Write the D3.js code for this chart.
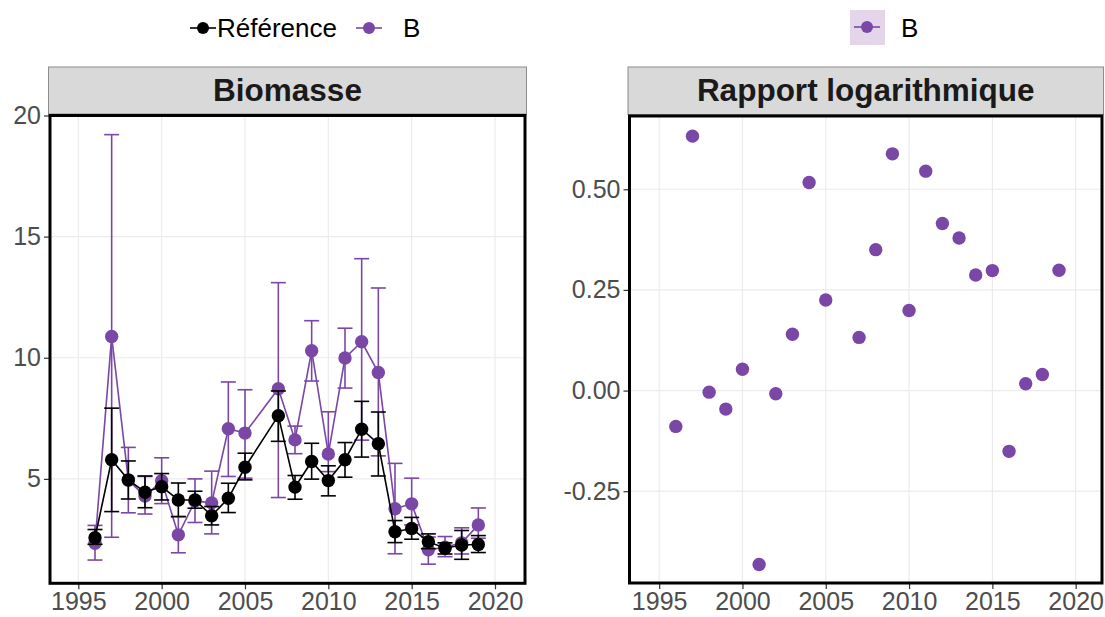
<!DOCTYPE html>
<html>
<head>
<meta charset="utf-8">
<script src="https://cdn.jsdelivr.net/npm/d3@7"></script>
<style>
  html, body { margin: 0; padding: 0; background: #fff; }
  svg { display: block; font-family: "Liberation Sans", Arial, Helvetica, sans-serif; }
</style>
</head>
<body>
<svg id="chart" width="1105" height="617"></svg>
<script>
// ---------- data ----------
const years = [1996,1997,1998,1999,2000,2001,2002,2003,2004,2005,2007,2008,2009,2010,2011,2012,2013,2014,2015,2016,2017,2018,2019];

const refVal = [2.57,5.79,4.96,4.45,4.68,4.13,4.13,3.48,4.20,5.48,7.61,4.66,5.72,4.93,5.79,7.05,6.45,2.82,2.95,2.41,2.14,2.27,2.29];
const refLo  = [2.30,3.65,4.17,3.81,4.13,3.44,3.79,3.10,3.61,4.96,6.55,4.16,4.99,4.30,5.07,5.90,5.12,2.37,2.51,2.12,1.90,1.68,1.96];
const refHi  = [2.91,7.92,5.74,5.12,5.22,4.83,4.49,3.86,4.82,6.06,8.63,5.14,6.47,5.54,6.50,8.20,7.76,3.28,3.41,2.73,2.36,2.87,2.66];

const bVal = [2.34,10.88,4.94,4.29,4.92,2.69,4.09,4.01,7.07,6.89,8.72,6.61,10.29,6.03,9.99,10.66,9.39,3.77,3.97,2.07,2.18,2.36,3.10];
const bLo  = [1.65,2.59,3.60,3.55,3.98,1.95,3.20,2.73,5.10,5.03,4.23,6.04,9.04,5.30,8.75,6.60,5.95,1.91,3.10,1.48,1.79,1.90,2.55];
const bHi  = [3.08,19.21,6.30,5.10,5.87,3.45,5.00,5.32,9.00,8.68,13.10,7.18,11.53,7.77,11.22,14.09,12.88,5.64,5.03,2.60,2.62,2.98,3.80];

const logRatio = [-0.089,0.632,-0.004,-0.046,0.053,-0.432,-0.008,0.140,0.517,0.225,0.132,0.350,0.588,0.199,0.545,0.415,0.379,0.287,0.298,-0.151,0.017,0.040,0.299];

const xTicks = [1995,2000,2005,2010,2015,2020];
const yTicksLeft = [5,10,15,20];
const yTicksRight = [-0.25,0,0.25,0.5];
const seriesNames = ["Référence","B"];
const panelTitles = ["Biomasse","Rapport logarithmique"];

// ---------- style ----------
const PURPLE = "#7a47a6";
const BLACK = "#000000";
const GRID = "#ebebeb";
const TICKTXT = "#4d4d4d";

const svg = d3.select("#chart");

const refRows = years.map((y,i)=>({year:y, v:refVal[i], lo:refLo[i], hi:refHi[i]}));
const bRows = years.map((y,i)=>({year:y, v:bVal[i], lo:bLo[i], hi:bHi[i]}));
const lrRows = years.map((y,i)=>({year:y, v:logRatio[i]}));

function panel(cfg) {
  const {x, y, xt, yt, yfmt, title} = cfg;
  const [px0, px1] = x.range();
  const [py1, py0] = y.range();
  const g = svg.append("g");
  g.selectAll(".gx").data(xt).join("line")
    .attr("x1", d=>x(d)).attr("x2", d=>x(d)).attr("y1", py0).attr("y2", py1)
    .attr("stroke", GRID).attr("stroke-width", 1.2);
  g.selectAll(".gy").data(yt).join("line")
    .attr("y1", d=>y(d)).attr("y2", d=>y(d)).attr("x1", px0).attr("x2", px1)
    .attr("stroke", GRID).attr("stroke-width", 1.2);
  g.append("rect").attr("x", px0-1.5).attr("y", 67).attr("width", px1-px0+3).attr("height", py0-67-1.5)
    .attr("fill", "#d9d9d9").attr("stroke", "#8c8c8c").attr("stroke-width", 1);
  g.append("text").attr("x", (px0+px1)/2).attr("y", 90).attr("text-anchor","middle")
    .attr("dominant-baseline","central").attr("font-weight","bold").attr("font-size", 31.5)
    .attr("fill", "#1a1a1a").text(title);
  const ax = g.append("g").attr("transform", `translate(0,${py1})`)
    .call(d3.axisBottom(x).tickValues(xt).tickSize(6).tickPadding(3).tickFormat(d3.format("d")));
  const ay = g.append("g").attr("transform", `translate(${px0},0)`)
    .call(d3.axisLeft(y).tickValues(yt).tickSize(6).tickPadding(3).tickFormat(yfmt));
  [ax, ay].forEach(a => {
    a.select(".domain").remove();
    a.selectAll(".tick line").attr("stroke", "#333").attr("stroke-width", 1.2);
    a.selectAll(".tick text").attr("fill", TICKTXT).attr("font-size", 25)
      .attr("font-family", '"Liberation Sans", Arial, sans-serif');
  });
  const plot = g.append("g");
  cfg.after = () => {
    g.append("rect").attr("x", px0).attr("y", py0).attr("width", px1-px0).attr("height", py1-py0)
      .attr("fill", "none").attr("stroke", "#000").attr("stroke-width", 3);
  };
  return plot;
}

// ---------- left panel ----------
const xL = d3.scaleLinear().domain([1993.3, 2021.8]).range([50, 525]);
const yL = d3.scaleLinear().domain([0.69, 20.0]).range([583.3, 115.5]);
const cfgL = {x:xL, y:yL, xt:xTicks, yt:yTicksLeft, yfmt:d3.format("d"), title:panelTitles[0]};
const pL = panel(cfgL);

function drawSeries(g, rows, color) {
  const cap = 7.5;
  const eb = g.append("g").attr("stroke", color).attr("stroke-width", 1.6).attr("fill","none");
  eb.selectAll(".v").data(rows).join("line")
    .attr("x1", d=>xL(d.year)).attr("x2", d=>xL(d.year)).attr("y1", d=>yL(d.lo)).attr("y2", d=>yL(d.hi));
  eb.selectAll(".t").data(rows).join("line")
    .attr("x1", d=>xL(d.year)-cap).attr("x2", d=>xL(d.year)+cap).attr("y1", d=>yL(d.hi)).attr("y2", d=>yL(d.hi));
  eb.selectAll(".b").data(rows).join("line")
    .attr("x1", d=>xL(d.year)-cap).attr("x2", d=>xL(d.year)+cap).attr("y1", d=>yL(d.lo)).attr("y2", d=>yL(d.lo));
  g.append("path").datum(rows)
    .attr("d", d3.line().x(d=>xL(d.year)).y(d=>yL(d.v)))
    .attr("fill","none").attr("stroke", color).attr("stroke-width", 1.6);
  g.append("g").selectAll("circle").data(rows).join("circle")
    .attr("cx", d=>xL(d.year)).attr("cy", d=>yL(d.v)).attr("r", 6.7).attr("fill", color);
}
drawSeries(pL.append("g"), bRows, PURPLE);
drawSeries(pL.append("g"), refRows, BLACK);
cfgL.after();

// ---------- right panel ----------
const xR = d3.scaleLinear().domain([1993.22, 2021.58]).range([629.5, 1102]);
const yR = d3.scaleLinear().domain([-0.478, 0.682]).range([583, 116]);
const cfgR = {x:xR, y:yR, xt:xTicks, yt:yTicksRight, yfmt:d=>d.toFixed(2), title:panelTitles[1]};
const pR = panel(cfgR);
pR.selectAll("circle").data(lrRows).join("circle")
  .attr("cx", d=>xR(d.year)).attr("cy", d=>yR(d.v)).attr("r", 6.7).attr("fill", PURPLE);
cfgR.after();

// ---------- legends ----------
function key(g, cx, cy, color) {
  g.append("line").attr("x1", cx-13).attr("x2", cx+13).attr("y1", cy).attr("y2", cy)
    .attr("stroke", color).attr("stroke-width", 1.6);
  g.append("circle").attr("cx", cx).attr("cy", cy).attr("r", 6).attr("fill", color);
}
const lg = svg.append("g");
key(lg, 203, 28, BLACK);
lg.append("text").attr("x", 217).attr("y", 28).attr("dominant-baseline","central")
  .attr("font-size", 26).attr("fill","#000").text(seriesNames[0]);
key(lg, 369, 28, PURPLE);
lg.append("text").attr("x", 403).attr("y", 28).attr("dominant-baseline","central")
  .attr("font-size", 26).attr("fill","#000").text(seriesNames[1]);

const lg2 = svg.append("g");
lg2.append("rect").attr("x", 850).attr("y", 10).attr("width", 35).attr("height", 35).attr("fill", "#e5d5eb");
key(lg2, 867, 27, PURPLE);
lg2.append("text").attr("x", 901).attr("y", 28).attr("dominant-baseline","central")
  .attr("font-size", 26).attr("fill","#000").text(seriesNames[1]);
</script>
</body>
</html>
